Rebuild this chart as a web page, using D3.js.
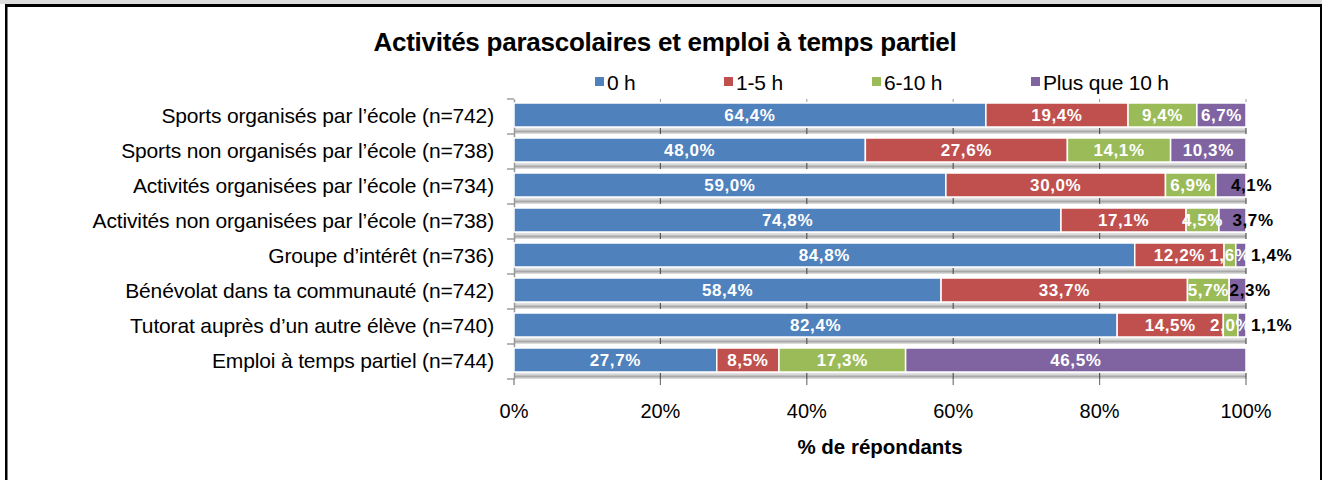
<!DOCTYPE html>
<html>
<head>
<meta charset="utf-8">
<script src="https://cdn.jsdelivr.net/npm/d3@7"></script>
<style>
  body { margin: 0; background: #fff; }
  text { font-family: "Liberation Sans", Arial, sans-serif; }
</style>
</head>
<body>
<div id="chart"></div>
<script>
const categories = [
  "Sports organisés par l’école (n=742)",
  "Sports non organisés par l’école (n=738)",
  "Activités organisées par l’école (n=734)",
  "Activités non organisées par l’école (n=738)",
  "Groupe d’intérêt (n=736)",
  "Bénévolat dans ta communauté (n=742)",
  "Tutorat auprès d’un autre élève (n=740)",
  "Emploi à temps partiel (n=744)"
];
const seriesNames = ["0 h", "1-5 h", "6-10 h", "Plus que 10 h"];
const h0 = [64.4, 48.0, 59.0, 74.8, 84.8, 58.4, 82.4, 27.7];
const h1to5 = [19.4, 27.6, 30.0, 17.1, 12.2, 33.7, 14.5, 8.5];
const h6to10 = [9.4, 14.1, 6.9, 4.5, 1.6, 5.7, 2.0, 17.3];
const h10plus = [6.7, 10.3, 4.1, 3.7, 1.4, 2.3, 1.1, 46.5];
const xTicks = [0, 20, 40, 60, 80, 100];

const colors = ["#4f81bd", "#c0504d", "#9bbb59", "#8064a2"];
const w = 1322, h = 480;

const svg = d3.select("#chart").append("svg")
  .attr("width", w)
  .attr("height", h);

// frame
svg.append("rect").attr("x", 0).attr("y", 0).attr("width", w).attr("height", 4).attr("fill", "#dcdcdc");
svg.append("rect").attr("x", 5).attr("y", 4).attr("width", w - 5).attr("height", 3).attr("fill", "#000");
svg.append("rect").attr("x", 5).attr("y", 4).attr("width", 2.5).attr("height", h).attr("fill", "#000");
svg.append("rect").attr("x", 1320).attr("y", 4).attr("width", 2).attr("height", h).attr("fill", "#000");

const defs = svg.append("defs");
const grad = defs.append("linearGradient").attr("id", "floor")
  .attr("x1", 0).attr("y1", 0).attr("x2", 0).attr("y2", 1);
grad.append("stop").attr("offset", "0%").attr("stop-color", "#f2f2f2");
grad.append("stop").attr("offset", "45%").attr("stop-color", "#cfcfcf");
grad.append("stop").attr("offset", "60%").attr("stop-color", "#a0a0a0");
grad.append("stop").attr("offset", "100%").attr("stop-color", "#e8e8e8");

const xScale = d3.scaleLinear().domain([0, 100]).range([514, 1246]);
const yScale = d3.scaleBand().domain(categories).range([99, 379]);
const bw = yScale.bandwidth();
const barTop = 4, barH = 24;

// title
svg.append("text")
  .attr("x", 665).attr("y", 51)
  .attr("text-anchor", "middle")
  .style("font-size", "26px").style("font-weight", "bold")
  .style("letter-spacing", "-0.25px")
  .text("Activités parascolaires et emploi à temps partiel");

// legend
const legendX = [595, 724, 872, 1031];
const legend = svg.append("g").selectAll("g")
  .data(seriesNames)
  .enter().append("g")
  .attr("transform", (d, i) => `translate(${legendX[i]}, 82)`);
legend.append("rect").attr("x", 0).attr("y", -5).attr("width", 9).attr("height", 9)
  .attr("fill", (d, i) => colors[i]);
legend.append("text").attr("x", 12).attr("y", 7.5)
  .style("font-size", "21px").style("letter-spacing", "-0.2px")
  .text(d => d);

// rows of stacked segments (normalised to 100%)
const rows = categories.map((c, i) => {
  const vals = [h0[i], h1to5[i], h6to10[i], h10plus[i]];
  const total = d3.sum(vals);
  let acc = 0;
  return vals.map((v, k) => {
    const s = { cat: c, k, v, x0: acc / total * 100, x1: (acc + v) / total * 100 };
    acc += v;
    return s;
  });
});

// floor strips + grid ticks under each bar
const floors = svg.append("g");
floors.selectAll("rect")
  .data(categories)
  .enter().append("rect")
  .attr("x", xScale(0))
  .attr("y", d => yScale(d) + barTop + barH)
  .attr("width", xScale(100) - xScale(0))
  .attr("height", bw - barTop - barH)
  .attr("fill", "url(#floor)");

categories.forEach(c => {
  floors.selectAll(null)
    .data(xTicks.slice(1))
    .enter().append("line")
    .attr("x1", d => xScale(d)).attr("x2", d => xScale(d))
    .attr("y1", yScale(c) + barTop + barH + 1)
    .attr("y2", yScale(c) + bw)
    .attr("stroke", "#555").attr("stroke-width", 1.2);
});

// small grid ticks above first bar
svg.append("g").selectAll("line")
  .data(xTicks.slice(1))
  .enter().append("line")
  .attr("x1", d => xScale(d)).attr("x2", d => xScale(d))
  .attr("y1", yScale(categories[0])).attr("y2", yScale(categories[0]) + 3)
  .attr("stroke", "#999");

// bottom axis ticks
svg.append("g").selectAll("line")
  .data(xTicks)
  .enter().append("line")
  .attr("x1", d => xScale(d)).attr("x2", d => xScale(d))
  .attr("y1", 379).attr("y2", 385)
  .attr("stroke", "#777").attr("stroke-width", 1.2);

// y axis
const yAxis = d3.axisLeft(yScale).tickSize(0).tickPadding(20);
const yG = svg.append("g")
  .attr("transform", `translate(${xScale(0)},0)`)
  .call(yAxis);
yG.select(".domain").attr("stroke", "#999").attr("stroke-width", 1.5);
yG.selectAll("text")
  .style("font-size", "21px").style("letter-spacing", "-0.15px")
  .attr("fill", "#000");
svg.append("g").selectAll("line")
  .data(d3.range(categories.length + 1))
  .enter().append("line")
  .attr("x1", xScale(0) - 7).attr("x2", xScale(0))
  .attr("y1", i => 99 + i * bw).attr("y2", i => 99 + i * bw)
  .attr("stroke", "#888").attr("stroke-width", 1.2);

// bars
const barG = svg.append("g");
barG.selectAll("g")
  .data(rows)
  .enter().append("g")
  .selectAll("rect")
  .data(d => d)
  .enter().append("rect")
  .attr("x", d => xScale(d.x0))
  .attr("y", d => yScale(d.cat) + barTop)
  .attr("width", d => xScale(d.x1) - xScale(d.x0))
  .attr("height", barH)
  .attr("fill", d => colors[d.k])
  .attr("stroke", "#fff")
  .attr("stroke-width", 1.5);

// value labels
const fmt = v => v.toFixed(1).replace(".", ",") + "%";
const labels = svg.append("g");
rows.flat().forEach(d => {
  const mid = (xScale(d.x0) + xScale(d.x1)) / 2;
  const outside = d.k === 3 && d.v < 5;
  let x = mid, anchor = "middle";
  if (outside) {
    anchor = "start";
    x = d.v < 2 ? xScale(100) + 5 : mid - (d.v < 3 ? 8 : 0);
  }
  labels.append("text")
    .attr("x", x)
    .attr("y", yScale(d.cat) + barTop + barH / 2 + 6)
    .attr("text-anchor", anchor)
    .style("font-size", "17px").style("font-weight", "bold")
    .style("letter-spacing", "0.6px")
    .attr("fill", outside ? "#000" : "#fff")
    .text(fmt(d.v));
});

// x tick labels
svg.append("g").selectAll("text")
  .data(xTicks)
  .enter().append("text")
  .attr("x", d => xScale(d))
  .attr("y", 418)
  .attr("text-anchor", "middle")
  .style("font-size", "20px")
  .text(d => d + "%");

svg.append("text")
  .attr("x", 880).attr("y", 454)
  .attr("text-anchor", "middle")
  .style("font-size", "20.5px").style("font-weight", "bold")
  .text("% de répondants");
</script>
</body>
</html>
